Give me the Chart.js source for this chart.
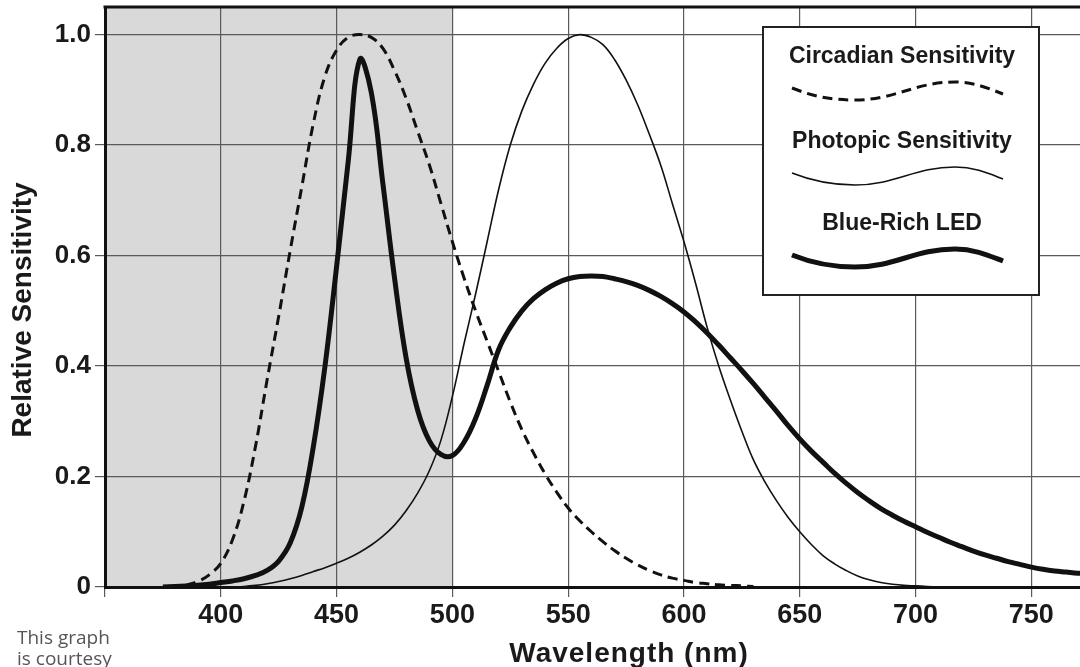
<!DOCTYPE html>
<html>
<head>
<meta charset="utf-8">
<script src="https://cdn.jsdelivr.net/npm/chart.js@4.4.1/dist/chart.umd.min.js"></script>
<style>
    html, body { margin: 0; padding: 0; background: #fff; overflow: hidden; }
    canvas { display: block; }
</style>
</head>
<body>
<canvas id="myChart" width="1080" height="667"></canvas>
<script>
// data
const wavelengths = [375, 380, 385, 390, 395, 400, 405, 410, 415, 420, 425, 430, 435, 440, 445, 450, 455, 460, 465, 470,
    475, 480, 485, 490, 495, 500, 505, 510, 515, 520, 525, 530, 535, 540, 545, 550, 555, 560, 565, 570,
    575, 580, 585, 590, 595, 600, 605, 610, 615, 620, 625, 630, 635, 640, 645, 650, 655, 660, 665, 670,
    675, 680, 685, 690, 695, 700, 705, 710, 715, 720, 725, 730, 735, 740, 745, 750, 755, 760, 765, 770, 775];

const circadian = [null, null, 0.003, 0.01, 0.022, 0.043, 0.085, 0.155, 0.255, 0.375, 0.49, 0.61, 0.725, 0.84, 0.925, 0.972, 0.995, 1.0, 0.995, 0.975,
    0.935, 0.885, 0.825, 0.765, 0.695, 0.625, 0.56, 0.50, 0.445, 0.39, 0.335, 0.285, 0.243, 0.205, 0.172, 0.143, 0.12, 0.10, 0.082, 0.066,
    0.052, 0.04, 0.03, 0.022, 0.016, 0.012, 0.008, 0.006, 0.004, 0.003, 0.002, 0.001, null, null, null, null, null, null, null, null,
    null, null, null, null, null, null, null, null, null, null, null, null, null, null, null, null, null, null, null, null, null];

const photopic = [null, null, null, null, null, null, 0.0, 0.001, 0.003, 0.006, 0.01, 0.015, 0.021, 0.028, 0.035, 0.043, 0.052, 0.063, 0.076, 0.092,
    0.112, 0.138, 0.17, 0.21, 0.265, 0.345, 0.44, 0.53, 0.625, 0.72, 0.80, 0.862, 0.91, 0.948, 0.975, 0.993, 1.0, 0.995, 0.982, 0.955,
    0.918, 0.873, 0.82, 0.763, 0.694, 0.625, 0.55, 0.47, 0.40, 0.339, 0.282, 0.23, 0.19, 0.156, 0.126, 0.10, 0.077, 0.057, 0.042, 0.03,
    0.02, 0.013, 0.008, 0.005, 0.003, 0.002, 0.001, 0.0, null, null, null, null, null, null, null, null, null, null, null, null, null];

const blueLed = [0.0, 0.001, 0.002, 0.003, 0.005, 0.008, 0.011, 0.015, 0.021, 0.03, 0.047, 0.08, 0.145, 0.255, 0.40, 0.58, 0.77, 0.955, 0.895, 0.73,
    0.56, 0.415, 0.32, 0.265, 0.24, 0.238, 0.262, 0.305, 0.365, 0.43, 0.47, 0.50, 0.522, 0.538, 0.55, 0.558, 0.562, 0.563, 0.562, 0.558,
    0.553, 0.546, 0.537, 0.526, 0.513, 0.498, 0.48, 0.46, 0.438, 0.415, 0.392, 0.368, 0.343, 0.318, 0.292, 0.268, 0.246, 0.226, 0.206, 0.188,
    0.171, 0.156, 0.142, 0.13, 0.119, 0.109, 0.099, 0.09, 0.081, 0.073, 0.065, 0.058, 0.052, 0.046, 0.041, 0.036, 0.032, 0.029, 0.027, 0.025, 0.024];

const seriesNames = ['Circadian Sensitivity', 'Photopic Sensitivity', 'Blue-Rich LED'];

const xTicks = [350, 400, 450, 500, 550, 600, 650, 700, 750];
const xTickLabels = ['', '400', '450', '500', '550', '600', '650', '700', '750'];
const yTicks = [0, 0.2, 0.4, 0.6, 0.8, 1.0];
const yTickLabels = ['0', '0.2', '0.4', '0.6', '0.8', '1.0'];

// shaded band (nm)
const shadeFrom = 350;
const shadeTo = 500;

const pts = arr => wavelengths.map((w, i) => ({ x: w, y: arr[i] }));

const ink = '#1a1a1a';
const gridColor = '#5a5a5a';

// gray band, frame, legend and titles
const decor = {
    id: 'decor',
    beforeDraw(chart) {
        const { ctx, chartArea: a, scales: { x } } = chart;
        const x0 = x.getPixelForValue(shadeFrom);
        const x1 = x.getPixelForValue(shadeTo);
        ctx.save();
        ctx.fillStyle = '#d9d9d9';
        ctx.fillRect(x0, a.top, x1 - x0, a.bottom - a.top);
        ctx.restore();
    },
    afterDraw(chart) {
        const { ctx, chartArea: a } = chart;
        ctx.save();

        // top frame line
        ctx.strokeStyle = '#111';
        ctx.lineWidth = 3;
        ctx.beginPath();
        ctx.moveTo(a.left - 1.5, a.top);
        ctx.lineTo(a.right, a.top);
        ctx.stroke();

        // legend box
        ctx.fillStyle = '#fff';
        ctx.fillRect(763, 27, 276, 268);
        ctx.strokeStyle = '#222';
        ctx.lineWidth = 2;
        ctx.strokeRect(763, 27, 276, 268);

        const rows = [{ text: 63, wave: 88 }, { text: 148, wave: 173 }, { text: 230, wave: 255 }];
        chart.data.datasets.forEach((ds, i) => {
            ctx.fillStyle = ink;
            ctx.font = 'bold 23px "Liberation Sans", Arial, sans-serif';
            ctx.textAlign = 'center';
            ctx.textBaseline = 'alphabetic';
            ctx.fillText(ds.label, 902, rows[i].text);

            const y0 = rows[i].wave;
            ctx.strokeStyle = '#111';
            ctx.lineWidth = ds.borderWidth;
            ctx.setLineDash(ds.borderDash || []);
            ctx.lineCap = 'butt';
            ctx.beginPath();
            ctx.moveTo(792, y0);
            ctx.bezierCurveTo(812, y0 + 8, 830, y0 + 12, 855, y0 + 12);
            ctx.bezierCurveTo(895, y0 + 12, 915, y0 - 6, 955, y0 - 6);
            ctx.bezierCurveTo(975, y0 - 6, 990, y0 + 1, 1003, y0 + 6);
            ctx.stroke();
            ctx.setLineDash([]);
        });

        // axis titles
        ctx.fillStyle = ink;
        ctx.font = 'bold 28px "Liberation Sans", Arial, sans-serif';
        ctx.textAlign = 'center';
        ctx.textBaseline = 'alphabetic';
        ctx.letterSpacing = '1px';
        ctx.fillText('Wavelength (nm)', 629, 662);
        ctx.letterSpacing = '0px';

        ctx.save();
        ctx.translate(23, 310);
        ctx.rotate(-Math.PI / 2);
        ctx.textBaseline = 'middle';
        ctx.fillText('Relative Sensitivity', 0, 0);
        ctx.restore();

        // credit note
        ctx.fillStyle = '#555';
        ctx.font = '19px "Open Sans", sans-serif';
        ctx.textAlign = 'left';
        ctx.fillText('This graph', 17, 644);
        ctx.fillText('is courtesy', 17, 665);

        ctx.restore();
    }
};

const data = {
    datasets: [{
        label: seriesNames[0],
        data: pts(circadian),
        borderColor: '#111',
        borderWidth: 3,
        borderDash: [10, 6],
    },
    {
        label: seriesNames[1],
        data: pts(photopic),
        borderColor: '#111',
        borderWidth: 1.6,
    },
    {
        label: seriesNames[2],
        data: pts(blueLed),
        borderColor: '#111',
        borderWidth: 5,
    }]
};

const config = {
    type: 'line',
    data: data,
    options: {
        responsive: false,
        animation: false,
        layout: { padding: { top: 7, left: 0, right: 0, bottom: 0 } },
        elements: {
            point: { radius: 0 },
            line: { tension: 0.4, fill: false }
        },
        scales: {
            x: {
                type: 'linear',
                min: 350,
                max: 771,
                afterBuildTicks: scale => { scale.ticks = xTicks.map(v => ({ value: v })); },
                afterFit: scale => {
                    scale.height = 80;
                    scale.paddingLeft = 0;
                    scale.paddingRight = 0;
                },
                grid: { color: gridColor, lineWidth: 1.2, tickLength: 10 },
                border: { color: '#111', width: 3 },
                ticks: {
                    maxRotation: 0,
                    padding: 2,
                    color: ink,
                    font: { family: '"Liberation Sans", Arial, sans-serif', size: 27, weight: 'bold' },
                    callback: (v, i) => xTickLabels[i]
                }
            },
            y: {
                min: 0,
                max: 1.05,
                afterBuildTicks: scale => { scale.ticks = yTicks.map(v => ({ value: v })); },
                afterFit: scale => {
                    scale.width = 105;
                    scale.paddingTop = 0;
                    scale.paddingBottom = 0;
                },
                grid: { color: gridColor, lineWidth: 1.2, tickLength: 10 },
                border: { color: '#111', width: 3 },
                ticks: {
                    padding: 4,
                    color: ink,
                    font: { family: '"Liberation Sans", Arial, sans-serif', size: 26, weight: 'bold' },
                    callback: (v, i) => yTickLabels[i]
                }
            }
        },
        plugins: {
            legend: { display: false },
            tooltip: { enabled: false }
        }
    },
    plugins: [decor]
};

const myChart = new Chart(
    document.getElementById('myChart'),
    config
);
</script>
</body>
</html>
